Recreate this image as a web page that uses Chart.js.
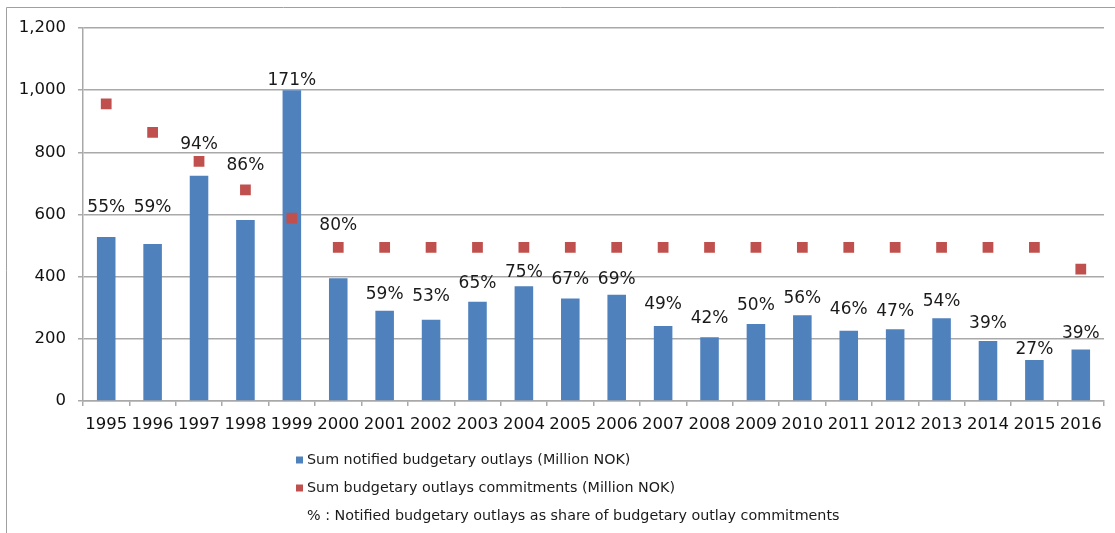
<!DOCTYPE html>
<html>
<head>
<meta charset="utf-8">
<script src="https://cdn.jsdelivr.net/npm/chart.js@4"></script>
<style>
  html, body { margin: 0; padding: 0; background: #fff; }
  #wrap { width: 1115px; height: 533px; position: relative; }
</style>
</head>
<body>
<div id="wrap"><canvas id="graph"></canvas></div>
<script>
// data
const years = ['1995','1996','1997','1998','1999','2000','2001','2002','2003','2004','2005',
  '2006','2007','2008','2009','2010','2011','2012','2013','2014','2015','2016'];
const notified = [528, 505, 725, 582, 1000, 395, 290, 261, 319, 369, 330,
  342, 241, 205, 248, 276, 226, 231, 266, 193, 132, 166];
const commitments = [956, 864, 771, 679, 588, 494, 494, 494, 494, 494, 494,
  494, 494, 494, 494, 494, 494, 494, 494, 494, 494, 424];
const shares = [55, 59, 94, 86, 171, 80, 59, 53, 65, 75, 67,
  69, 49, 42, 50, 56, 46, 47, 54, 39, 27, 39];
// height (in NOK) where each % label sits
const shareLabelAt = [623, 623, 825, 757, 1032, 565, 342, 336, 379, 413, 390,
  390, 309, 266, 306, 330, 295, 287, 320, 248, 164, 217];
const yTicks = [0, 200, 400, 600, 800, 1000, 1200];

const legendItems = [
  { text: 'Sum notified budgetary outlays (Million NOK)', color: '#4f81bd' },
  { text: 'Sum budgetary outlays commitments (Million NOK)', color: '#c0504d' },
  { text: '% : Notified budgetary outlays as share of budgetary outlay commitments', color: null }
];

const FONT = "'DejaVu Sans', Verdana, sans-serif";
const GRID = '#a9a9a9';

const extras = { // frame, % labels and the legend
  id: 'extras',
  beforeDraw(chart) {
    const ctx = chart.ctx;
    ctx.save();
    ctx.strokeStyle = '#a0a0a0';
    ctx.lineWidth = 1;
    ctx.beginPath();
    ctx.moveTo(6.5, 533);
    ctx.lineTo(6.5, 7.5);
    ctx.lineTo(1115, 7.5);
    ctx.stroke();
    ctx.restore();
  },
  afterDatasetsDraw(chart) {
    const ctx = chart.ctx;
    const x = chart.scales.x, y = chart.scales.y;
    ctx.save();
    ctx.font = '17px ' + FONT;
    ctx.fillStyle = '#1a1a1a';
    ctx.textAlign = 'center';
    ctx.textBaseline = 'middle';
    shares.forEach((s, i) => {
      ctx.fillText(s + '%', x.getPixelForValue(i), y.getPixelForValue(shareLabelAt[i]));
    });
    ctx.restore();
  },
  afterDraw(chart) {
    const ctx = chart.ctx;
    ctx.save();
    ctx.font = '14.3px ' + FONT;
    ctx.textBaseline = 'middle';
    legendItems.forEach((it, i) => {
      const cy = 460 + i * 28;
      if (it.color) {
        ctx.fillStyle = it.color;
        ctx.fillRect(296, cy - 3.5, 7, 7);
      }
      ctx.fillStyle = '#1a1a1a';
      ctx.fillText(it.text, 307, cy);
    });
    ctx.restore();
  }
};

new Chart('graph', {
  data: {
    labels: years,
    datasets: [
      {
        type: 'line',
        label: 'Sum budgetary outlays commitments (Million NOK)',
        data: commitments,
        showLine: false,
        pointStyle: 'rect',
        pointRadius: 7.6,
        pointBackgroundColor: '#c0504d',
        pointBorderWidth: 0,
        order: 1
      },
      {
        type: 'bar',
        label: 'Sum notified budgetary outlays (Million NOK)',
        data: notified,
        backgroundColor: '#4f81bd',
        barPercentage: 0.4,
        categoryPercentage: 1,
        order: 2
      }
    ]
  },
  options: {
    responsive: true,
    maintainAspectRatio: false,
    animation: false,
    layout: { padding: { left: 0, right: 11, top: 28, bottom: 0 } },
    plugins: { legend: { display: false }, tooltip: { enabled: false } },
    scales: {
      x: {
        grid: { display: true, drawOnChartArea: false, drawTicks: true, tickLength: 5, color: GRID, lineWidth: 1.5 },
        border: { display: true, color: GRID, width: 1.5 },
        ticks: { font: { family: FONT, size: 16.5 }, color: '#111', padding: 9, maxRotation: 0, autoSkip: false },
        afterFit(scale) { scale.height = 132; }
      },
      y: {
        min: 0,
        max: 1200,
        afterBuildTicks(scale) { scale.ticks = yTicks.map(v => ({ value: v })); },
        grid: { color: GRID, lineWidth: 1.5, tickLength: 5 },
        border: { display: true, color: GRID, width: 1.5 },
        ticks: { font: { family: FONT, size: 16.5 }, color: '#111', padding: 12 },
        afterFit(scale) { scale.width = 83; }
      }
    }
  },
  plugins: [extras]
});
</script>
</body>
</html>
